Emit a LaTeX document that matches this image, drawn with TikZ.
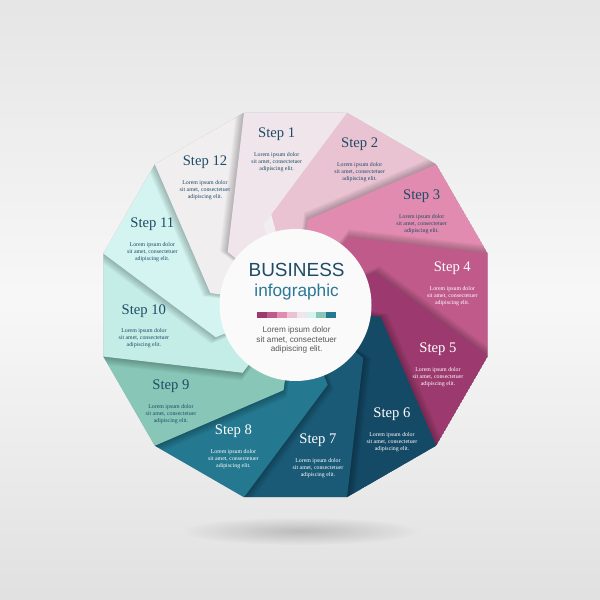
\documentclass[tikz,border=0pt]{standalone}
\usepackage{fontspec}
\setmainfont{Liberation Serif}
\setsansfont{Liberation Sans}
\usetikzlibrary{calc,fadings,positioning}

\definecolor{s1}{HTML}{F0E5EA}
\definecolor{s2}{HTML}{EAC3D3}
\definecolor{s3}{HTML}{E08BAF}
\definecolor{s4}{HTML}{BF5A8B}
\definecolor{s5}{HTML}{9C3A6F}
\definecolor{s6}{HTML}{154A66}
\definecolor{s7}{HTML}{1A5A77}
\definecolor{s8}{HTML}{24788F}
\definecolor{s9}{HTML}{88C7B7}
\definecolor{s10}{HTML}{C4EDE7}
\definecolor{s11}{HTML}{D3F4F0}
\definecolor{s12}{HTML}{F1EEF0}
\definecolor{darkteal}{HTML}{1E4C66}
\definecolor{midteal}{HTML}{2B7896}
\definecolor{bodygray}{HTML}{585858}

\tikzfading[name=softspot, inner color=transparent!0, outer color=transparent!100]

% one blade of the wheel, from its outer edge in to the centre
\newcommand\blade[1]{({105-30*(#1-1)}:199) -- ({75-30*(#1-1)}:199) -- (0,0) -- ({142-30*(#1-1)}:86) -- cycle}
% the part of blade 1 that blade 2 leaves uncovered
\newcommand\bladeone{(105:199) -- (75:199) -- (112:86) -- (0,0) -- (142:86) -- cycle}
% soft shadow of a blade, a few faint copies pushed aside
\newcommand\bladeshadow[2]{%
  \foreach \s in {1,...,8}
    \fill[black, opacity=0.03, shift={({173-30*(#1-1)}:\s)}] #2;}

\begin{document}
\begin{tikzpicture}[x=0.3mm, y=0.3mm,
    steptitle/.style={font=\fontsize{12.5}{14}\selectfont, inner sep=0pt},
    stepbody/.style={font=\fontsize{5}{5.9}\selectfont, align=center, inner sep=0pt},
    centertext/.style={font=\sffamily\fontsize{7}{8.4}\selectfont, text=bodygray, align=center, inner sep=0pt}]
    % Background and floor shadow
    \useasboundingbox (-295.5,-295) rectangle (304.5,305);
    \shade[top color=black!10, bottom color=black!12, middle color=black!3] (-295.5,-295) rectangle (304.5,305);
    \fill[black, opacity=0.18, path fading=softspot] (4.5,-226) ellipse (120 and 14);

    % Blades of the wheel
    \begin{scope}
        \clip (15:199) \foreach \a in {45,75,...,345} { -- (\a:199) } -- cycle;
        \foreach \k in {1,...,12} {
            \bladeshadow{\k}{\blade{\k}}
            \fill[s\k] \blade{\k};
        }
        % close the ring: blade 1 lies over blade 12
        \bladeshadow{1}{\bladeone}
        \fill[s1] \bladeone;
    \end{scope}
    \fill[white!97!black!60!white] (0,0) circle (76);

    % Step labels
    \foreach \k/\x/\y/\c in {1/-18.8/171/darkteal, 2/64.2/161/darkteal, 3/126.2/109/darkteal,
        4/156.8/37/white, 5/142.5/-44/white, 6/96.5/-109.5/white, 7/22.5/-135.5/white,
        8/-62.1/-126/white, 9/-124.5/-81/darkteal, 10/-151.6/-5.7/darkteal,
        11/-143.2/80.4/darkteal, 12/-90.5/143/darkteal} {
        \node[steptitle, text=\c] (t\k) at (\x,\y) {Step \k};
        \node[stepbody, text=\c, below=3.4mm of t\k] (b\k) {Lorem ipsum dolor\\sit amet, consectetuer\\adipiscing elit.};
    }

    % Centre
    \node[font=\sffamily\fontsize{16.2}{18}\selectfont, text=darkteal, inner sep=0pt] (biz) at (1.1,35) {BUSINESS};
    \node[font=\sffamily\fontsize{14.7}{16}\selectfont, text=midteal, inner sep=0pt] (info) at (1.1,13.4) {infographic};
    \foreach \i/\c in {0/s5, 1/s4, 2/s3, 3/s2, 4/s1, 5/s11, 6/s9, 7/s8}
        \fill[\c] ({-38.5+9.9*\i},-12.6) rectangle ++(9.9,6);
    \node[centertext] (lorem) at (1.1,-35) {Lorem ipsum dolor\\sit amet, consectetuer\\adipiscing elit.};
\end{tikzpicture}
\end{document}
